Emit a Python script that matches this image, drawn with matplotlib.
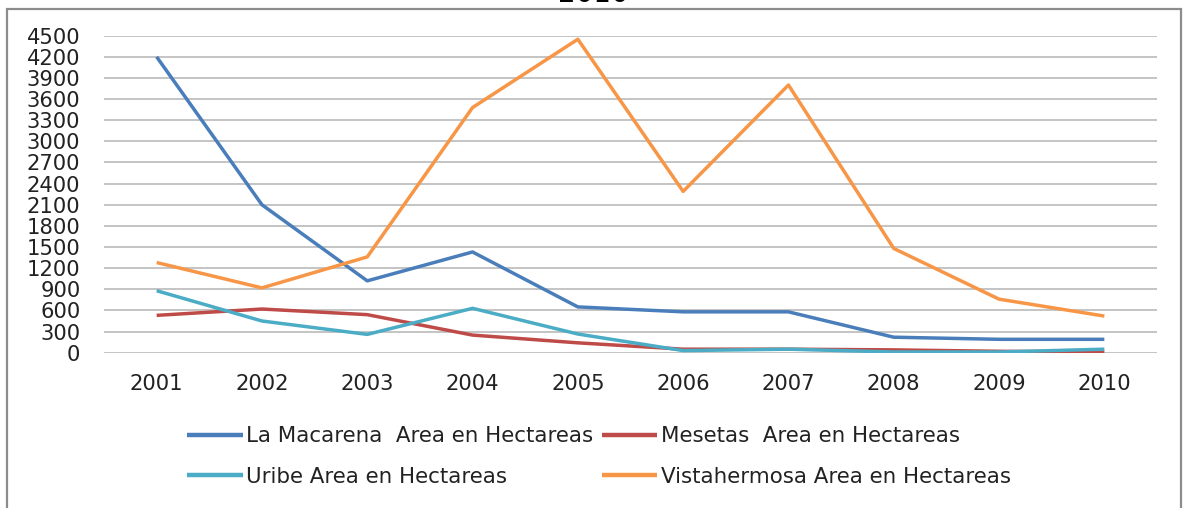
import matplotlib
matplotlib.use("Agg")
import matplotlib.pyplot as plt
from matplotlib.patches import Rectangle

# values
years = ["2001", "2002", "2003", "2004", "2005", "2006", "2007", "2008", "2009", "2010"]
la_macarena = [4200, 2100, 1020, 1430, 650, 580, 580, 220, 190, 190]
mesetas = [530, 620, 540, 250, 140, 50, 50, 40, 20, 10]
uribe = [880, 450, 260, 630, 265, 30, 50, 10, 10, 50]
vistahermosa = [1280, 920, 1360, 3480, 4450, 2290, 3800, 1480, 760, 520]
yticks = list(range(0, 4501, 300))

W, H = 1186, 508
fig = plt.figure(figsize=(W / 100, H / 100), dpi=100)

# outer chart frame (bottom runs off the image)
fig.patches.append(Rectangle((7 / W, -0.2), (1181 - 7) / W, 1.2 - 9 / H,
                             transform=fig.transFigure, fill=False,
                             edgecolor="#8c8c8c", linewidth=1.6))
# title, mostly cut off at the top edge
fig.text(0.5, 1 - 2.5 / H, "2010", ha="center", va="baseline", fontsize=20)

ax = fig.add_axes([104 / W, 1 - 352.7 / H, (1157 - 104) / W, (352.7 - 35.7) / H])
x = list(range(len(years)))

l1, = ax.plot(x, la_macarena, color="#4a7ebb", lw=2.5, solid_capstyle="butt",
              label="La Macarena  Area en Hectareas")
l2, = ax.plot(x, mesetas, color="#be4b48", lw=2.5, solid_capstyle="butt",
              label="Mesetas  Area en Hectareas")
l3, = ax.plot(x, uribe, color="#4bacc6", lw=2.5, solid_capstyle="butt",
              label="Uribe Area en Hectareas")
l4, = ax.plot(x, vistahermosa, color="#f79646", lw=2.5, solid_capstyle="butt",
              label="Vistahermosa Area en Hectareas")

ax.set_xlim(-0.5, len(years) - 0.5)
ax.set_ylim(0, 4500)
ax.set_yticks(yticks)
ax.set_xticks(x)
ax.set_xticklabels(years)
ax.grid(axis="y", color="#c4c4c4", linewidth=1.4)
ax.set_axisbelow(True)
for s in ax.spines.values():
    s.set_visible(False)
ax.tick_params(axis="both", length=0, labelsize=15.2, colors="#222222")
ax.tick_params(axis="x", pad=15)
ax.tick_params(axis="y", pad=17)

leg = fig.legend([l1, l3, l2, l4], [l1.get_label(), l3.get_label(), l2.get_label(), l4.get_label()],
                 ncol=2, loc="upper left", bbox_to_anchor=(168 / W, 1 - 407 / H),
                 frameon=False, fontsize=15.4, handlelength=2.6, handletextpad=0.15,
                 columnspacing=0.4, labelspacing=0.95)
for h in leg.legend_handles:
    h.set_linewidth(3.2)
for t in leg.get_texts():
    t.set_color("#222222")

fig.savefig("out.png", dpi=100)
